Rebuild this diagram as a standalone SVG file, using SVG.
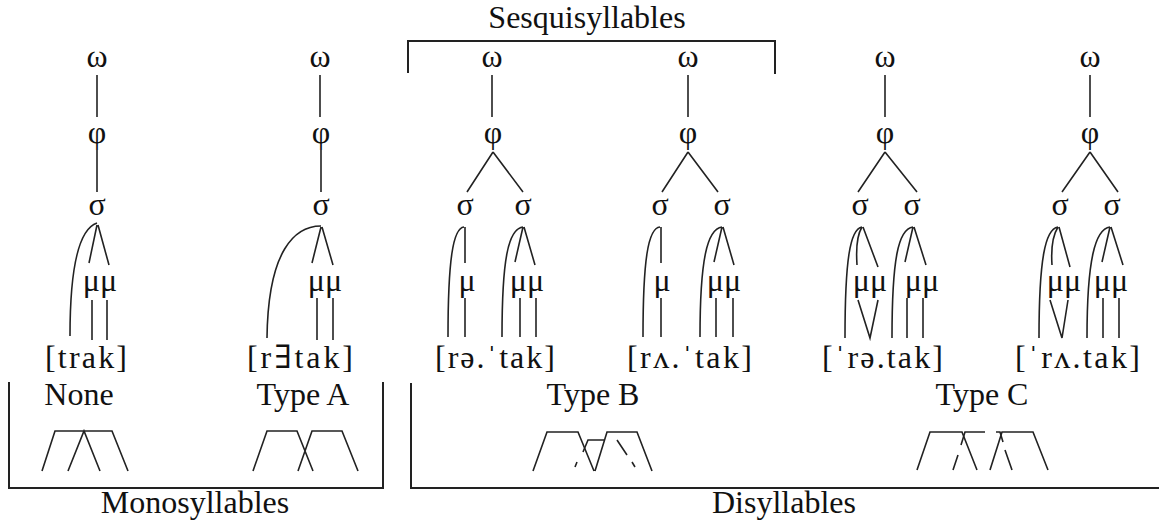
<svg xmlns="http://www.w3.org/2000/svg" width="1159" height="524" viewBox="0 0 1159 524">
<style>
.t{font-family:"Liberation Serif","DejaVu Serif",serif;font-size:32px;fill:#111;text-anchor:middle}
.s{font-family:"Liberation Serif","DejaVu Serif",serif;font-size:32px;fill:#111;text-anchor:start}
.ln{stroke:#222;stroke-width:1.6;fill:none;stroke-linecap:butt}
.bx{stroke:#222;stroke-width:2;fill:none}
</style>
<rect width="1159" height="524" fill="#fff"/>

<g id="tree1">
<g id="t1-omega"><text class="t" x="97" y="67">ω</text></g>
<g id="t1-phi"><text class="t" x="97" y="143">φ</text></g>
<g id="t1-sigma"><text class="t" x="97" y="215">σ</text></g>
<g id="t1-mu"><text class="t" x="100" y="291">μμ</text></g>
<g id="t1-seg"><text class="s" x="45" y="368" textLength="82" lengthAdjust="spacing">[trak]</text></g>
<g id="t1-label"><text class="t" x="79" y="405">None</text></g>
</g>

<g id="tree2">
<g id="t2-omega"><text class="t" x="320" y="67">ω</text></g>
<g id="t2-phi"><text class="t" x="321" y="143">φ</text></g>
<g id="t2-sigma"><text class="t" x="321" y="215">σ</text></g>
<g id="t2-mu"><text class="t" x="325" y="291">μμ</text></g>
<g id="t2-seg"><text class="s" x="247" y="368" textLength="106" lengthAdjust="spacing">[r∃tak]</text></g>
<g id="t2-label"><text class="t" x="303" y="405">Type A</text></g>
</g>

<g id="tree3">
<g id="t3-omega"><text class="t" x="492" y="67">ω</text></g>
<g id="t3-phi"><text class="t" x="493" y="143">φ</text></g>
<g id="t3-sigma1"><text class="t" x="465" y="215">σ</text></g>
<g id="t3-sigma2"><text class="t" x="523" y="215">σ</text></g>
<g id="t3-mu1"><text class="t" x="467" y="291">μ</text></g>
<g id="t3-mu2"><text class="t" x="527" y="291">μμ</text></g>
<g id="t3-seg"><text class="s" x="435" y="368" textLength="120" lengthAdjust="spacing">[rə.ˈtak]</text></g>
</g>

<g id="tree4">
<g id="t4-omega"><text class="t" x="688" y="67">ω</text></g>
<g id="t4-phi"><text class="t" x="688" y="143">φ</text></g>
<g id="t4-sigma1"><text class="t" x="660" y="215">σ</text></g>
<g id="t4-sigma2"><text class="t" x="722" y="215">σ</text></g>
<g id="t4-mu1"><text class="t" x="662" y="291">μ</text></g>
<g id="t4-mu2"><text class="t" x="724" y="291">μμ</text></g>
<g id="t4-seg"><text class="s" x="627" y="368" textLength="125" lengthAdjust="spacing">[rʌ.ˈtak]</text></g>
</g>

<g id="tree5">
<g id="t5-omega"><text class="t" x="885" y="67">ω</text></g>
<g id="t5-phi"><text class="t" x="885" y="143">φ</text></g>
<g id="t5-sigma1"><text class="t" x="860" y="215">σ</text></g>
<g id="t5-sigma2"><text class="t" x="912" y="215">σ</text></g>
<g id="t5-mu1"><text class="t" x="870" y="291">μμ</text></g>
<g id="t5-mu2"><text class="t" x="922" y="291">μμ</text></g>
<g id="t5-seg"><text class="s" x="822" y="368" textLength="121" lengthAdjust="spacing">[ˈrə.tak]</text></g>
</g>

<g id="tree6">
<g id="t6-omega"><text class="t" x="1090" y="67">ω</text></g>
<g id="t6-phi"><text class="t" x="1090" y="143">φ</text></g>
<g id="t6-sigma1"><text class="t" x="1060" y="215">σ</text></g>
<g id="t6-sigma2"><text class="t" x="1112" y="215">σ</text></g>
<g id="t6-mu1"><text class="t" x="1064" y="291">μμ</text></g>
<g id="t6-mu2"><text class="t" x="1111" y="291">μμ</text></g>
<g id="t6-seg"><text class="s" x="1015" y="368" textLength="125" lengthAdjust="spacing">[ˈrʌ.tak]</text></g>
</g>

<g id="label-typeB"><text class="t" x="593" y="405">Type B</text></g>
<g id="label-typeC"><text class="t" x="982" y="405">Type C</text></g>
<g id="label-sesqui"><text class="t" x="587" y="28">Sesquisyllables</text></g>
<g id="label-mono"><text class="t" x="195" y="513">Monosyllables</text></g>
<g id="label-di"><text class="t" x="784" y="513">Disyllables</text></g>

<g id="connectors" class="ln">
<!-- tree 1 -->
<path d="M97,75V117M97,150V192M97,223Q70,232 70,336M97,225L89,263M98,225L109,265M92,300V340M107,300V340"/>
<!-- tree 2 -->
<path d="M320,75V117M321,150V192M321,226C295,226 268,250 267,338M321,227L312,263M322,227L333,265M317,298V340M333,298V340"/>
<!-- tree 3 -->
<path d="M492,75V117M493,152L467,192M493,152L523,192M465,227V263M464,227C453,228 448,260 448,337M465,298V337M523,227C508,229 502,260 502,337M523,227L515,262M524,227L535,265M520,298V337M536,298V337"/>
<!-- tree 4 -->
<path d="M688,75V117M688,152L662,192M688,152L718,192M661,227V263M660,227C648,228 643,260 643,337M661,298V337M722,227C707,229 700,260 700,337M722,227L714,262M723,227L734,265M716,298V337M733,298V337"/>
<!-- tree 5 -->
<path d="M885,75V117M885,152L858,192M885,152L917,192M862,227C850,229 845,260 845,338M862,227C857,235 856,250 857,265M863,227L878,267M858,300L870,338L878,300M913,227C898,229 892,260 892,338M913,227L905,262M914,227L926,265M907,298V338M923,298V338"/>
<!-- tree 6 -->
<path d="M1090,75V117M1090,152L1062,192M1090,152L1118,192M1058,227C1045,229 1039,260 1039,338M1058,227C1053,235 1051,250 1052,265M1059,227L1070,267M1050,300L1062,338L1068,300M1110,227C1095,229 1087,260 1087,338M1110,227L1102,262M1111,227L1123,265M1103,298V338M1119,298V338"/>
<!-- gestures -->
<path d="M42,471L55,431H112L128,471M68,471L84,431L100,471"/>
<path d="M253,471L267,431H297L313,471M298,471L312,431H342L358,471"/>
<path d="M533,471L547,432H578L594,471M595,471L607,432H637L652,471"/>
<path d="M575,467L577,462M583,452L588,440H605M617,440L627,455M632,462L635,467"/>
<path d="M917,470L930,432H962L977,470M990,470L1002,432H1033L1048,470"/>
<path d="M953,470L958,455M961,445L965,432H985M996,432H1000L1003,442M1005,450L1012,470"/>
</g>

<g id="brackets" class="bx">
<path d="M408,73V41H775V74"/>
<path d="M9,382V488H383V382"/>
<path d="M411,383V488H1159"/>
</g>
</svg>
